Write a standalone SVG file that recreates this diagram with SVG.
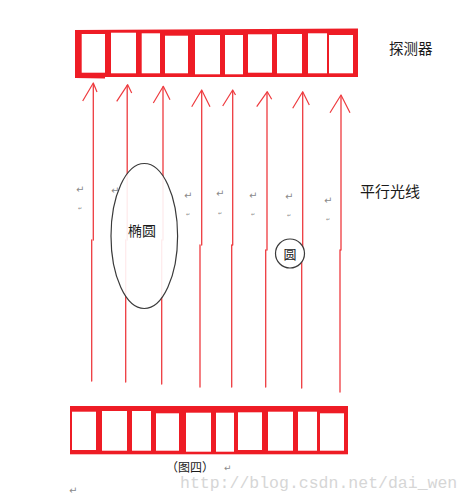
<svg xmlns="http://www.w3.org/2000/svg" width="470" height="499" viewBox="0 0 470 499">
<style>
.det{fill:#ee1c25}
.cell{fill:#ffffff}
.ray{fill:none;stroke:#ee3b3f;stroke-width:1.3;stroke-linecap:round}
.head{fill:none;stroke:#ee3b3f;stroke-width:1.2;stroke-linejoin:round}
.shape{stroke:#3a3a3a;stroke-width:1.2}
.cn{font-family:"Noto Sans CJK SC","Noto Sans CJK TC",sans-serif;fill:#1a1a1a}
.pm{font-family:"DejaVu Sans",sans-serif;fill:#8a8a8a}
.wm{font-family:"Liberation Mono",monospace;fill:#d6d6d6}
</style>
<rect width="470" height="499" fill="#ffffff"/>

<g id="detector-top">
<path class="det" d="M75 30 L358 28.5 L358 77 L105 77 L105 78.5 L75 78 Z"/>
<rect class="cell" x="81.7" y="34" width="23.3" height="38.7"/>
<rect class="cell" x="111" y="32.7" width="25" height="40.6"/>
<rect class="cell" x="141.7" y="33.3" width="18.3" height="40"/>
<rect class="cell" x="165" y="35.7" width="23" height="37.6"/>
<rect class="cell" x="195" y="35" width="25" height="39.3"/>
<rect class="cell" x="225" y="35" width="18" height="39.3"/>
<rect class="cell" x="248" y="34.3" width="24" height="38.4"/>
<rect class="cell" x="277" y="34" width="25" height="39.3"/>
<rect class="cell" x="308" y="33.3" width="19" height="40"/>
<rect class="cell" x="329" y="35" width="24" height="38.3"/>
</g>

<g id="detector-bottom">
<rect class="det" x="70" y="406" width="278" height="48.3"/>
<rect class="cell" x="72" y="411.7" width="24" height="38.3"/>
<rect class="cell" x="102" y="411" width="25" height="39.7"/>
<rect class="cell" x="132" y="411" width="19" height="39.7"/>
<rect class="cell" x="156" y="413.3" width="23" height="37.4"/>
<rect class="cell" x="186" y="412.7" width="25" height="39"/>
<rect class="cell" x="216" y="412.7" width="18" height="39"/>
<rect class="cell" x="238" y="412.3" width="24" height="37.7"/>
<rect class="cell" x="268" y="411.7" width="25" height="39"/>
<rect class="cell" x="298" y="411.7" width="19" height="39"/>
<rect class="cell" x="320" y="413.3" width="24" height="37.4"/>
</g>

<g id="rays">
<path class="ray" d="M93.3 84 V240 M91.7 240 V381"/>
<path class="head" d="M82.7 101 L93.3 83 L97 92"/>
<path class="ray" d="M127.2 85.5 V240 M125.7 240 V382"/>
<path class="head" d="M116.7 101.3 L127.7 84.7 L131.7 93"/>
<path class="ray" d="M163 87 V240 M161.7 240 V384"/>
<path class="head" d="M153.3 103 L163.3 86.3 L170 99.7"/>
<path class="ray" d="M201.7 91 V245 M200 245 V387"/>
<path class="head" d="M191.7 106.7 L201.7 90 L210 106.7"/>
<path class="ray" d="M232.7 91 V245 M231.7 245 V387"/>
<path class="head" d="M222.7 106 L232.7 90 L235.5 95"/>
<path class="ray" d="M267 92.5 V250 M265.7 250 V387"/>
<path class="head" d="M256.7 106.7 L267.3 91.7 L271.7 99.3"/>
<path class="ray" d="M302.7 92.5 V260 M301.7 260 V388"/>
<path class="head" d="M292.7 108.3 L302.7 91.7 L309.3 105"/>
<path class="ray" d="M341 96 V250 M340 250 V392"/>
<path class="head" d="M330 112.7 L341 95 L350 112.7"/>
</g>

<g id="marks">
<text class="pm" x="76" y="193" font-size="10">↵</text>
<text class="pm" x="111" y="194" font-size="10">↵</text>
<text class="pm" x="184" y="199" font-size="10">↵</text>
<text class="pm" x="216" y="197" font-size="10">↵</text>
<text class="pm" x="249" y="199" font-size="10">↵</text>
<text class="pm" x="285" y="200" font-size="10">↵</text>
<text class="pm" x="324" y="204" font-size="10">↵</text>
<text class="pm" x="78" y="210" font-size="5">↵</text>
<text class="pm" x="186" y="216" font-size="5">↵</text>
<text class="pm" x="218" y="215" font-size="5">↵</text>
<text class="pm" x="251" y="216" font-size="5">↵</text>
<text class="pm" x="287" y="217" font-size="5">↵</text>
<text class="pm" x="326" y="221" font-size="5">↵</text>
</g>

<g id="ellipse">
<ellipse class="shape" cx="144.3" cy="236" rx="33.3" ry="72.5" fill="#ffffff" fill-opacity="0.9"/>
<text class="cn" x="142" y="236" font-size="14" text-anchor="middle">椭圆</text>
</g>

<g id="circle">
<circle class="shape" cx="290" cy="253.5" r="14.5" fill="#ffffff"/>
<text class="cn" x="290" y="258.5" font-size="13" text-anchor="middle">圆</text>
</g>

<g id="labels">
<text class="cn" x="166" y="472" font-size="12">（图四）</text>
<text class="pm" x="224" y="471" font-size="9">↵</text>
<text class="pm" x="69" y="494" font-size="10">↵</text>
<text class="cn" x="389" y="54" font-size="14.5">探测器</text>
<text class="cn" x="360" y="197" font-size="15">平行光线</text>
</g>

<text class="wm" x="180" y="488" font-size="16.5">http://blog.csdn.net/dai_wen</text>
</svg>
